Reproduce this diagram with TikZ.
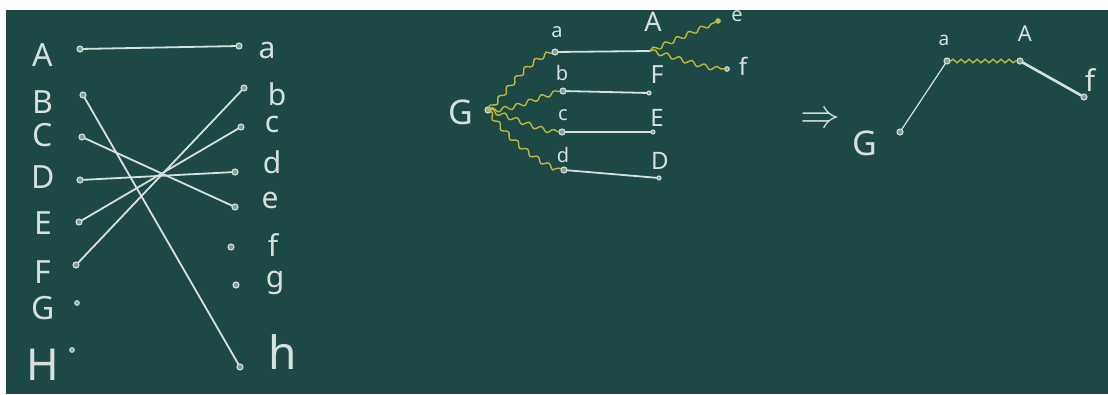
\documentclass[tikz,border=0pt]{standalone}
\usepackage{fontspec}
\setmainfont{Noto Sans}
\usetikzlibrary{decorations.pathmorphing}
\definecolor{board}{RGB}{28,73,69}
\definecolor{chalk}{RGB}{214,224,221}
\definecolor{ychalk}{RGB}{190,184,60}
\begin{document}
\begin{tikzpicture}[x=1pt,y=-1pt,
  dot/.style={circle,draw=chalk,fill=chalk!55!board,inner sep=0pt,minimum size=6pt,line width=1.1pt},
  lbl/.style={text=chalk,inner sep=0pt,font=\fontsize{#1}{#1}\selectfont},
  lbl/.default=28,
  chalkline/.style={draw=chalk,line width=1.8pt,line cap=round},
  thinline/.style={draw=chalk,line width=1.2pt,line cap=round},
  wavy/.style={draw=ychalk,line width=1.4pt,line cap=round,decorate,
    decoration={snake,segment length=13pt,amplitude=2.2pt}}]
\fill[white] (0,0) rectangle (1108,394);
\fill[board] (6,10) rectangle (1108,394);
\useasboundingbox (0,0) rectangle (1108,394);

% ---------- left panel ----------
\foreach \n/\x/\y in {A/43/55,B/43/102,C/43/135,D/43/177,E/43/223,F/43/272,G/43/308}
  \node[lbl=32] (L\n) at (\x,\y) {\n};
\node[lbl=44] (LH) at (43,365) {H};
\node[dot] (lA) at (80,49) {};
\node[dot] (lB) at (83,95) {};
\node[dot] (lC) at (82,137) {};
\node[dot] (lD) at (80,180) {};
\node[dot] (lE) at (79,222) {};
\node[dot] (lF) at (76,265) {};
\node[dot,minimum size=4.5pt] (lG) at (77,303) {};
\node[dot,minimum size=4.5pt] (lH) at (72,350) {};
\node[dot] (ra) at (239,46) {};
\node[dot] (rb) at (244,88) {};
\node[dot] (rc) at (241,127) {};
\node[dot] (rd) at (235,172) {};
\node[dot] (re) at (235,207) {};
\node[dot] (rf) at (231,247) {};
\node[dot] (rg) at (236,285) {};
\node[dot] (rh) at (240,367) {};
\node[lbl=30] (Ra) at (267,50) {a};
\node[lbl=30] (Rb) at (277,94) {b};
\node[lbl=30] (Rc) at (272,124) {c};
\node[lbl=30] (Rd) at (272,162) {d};
\node[lbl=30] (Re) at (270,200) {e};
\node[lbl=30] (Rf) at (273,245) {f};
\node[lbl=30] (Rg) at (275,283) {g};
\node[lbl=46] (Rh) at (283,352) {h};
\draw[chalkline] (lA) -- (ra);
\draw[chalkline] (lB) -- (rh);
\draw[chalkline] (lC) -- (re);
\draw[chalkline] (lD) -- (rd);
\draw[chalkline] (lE) -- (rc);
\draw[chalkline] (lF) -- (rb);

% ---------- middle panel ----------
\node[lbl=34] (MG) at (461,112) {G};
\node[dot] (mG) at (488,110) {};
\node[dot] (ma) at (555,52) {};
\node[dot] (mb) at (563,91) {};
\node[dot] (mc) at (562,132) {};
\node[dot] (md) at (564,170) {};
\node[lbl=20] (Ma) at (557,32) {a};
\node[lbl=20] (Mb) at (562,73) {b};
\node[lbl=20] (Mc) at (563,115) {c};
\node[lbl=20] (Md) at (563,155) {d};
\coordinate (mA) at (650,51);
\node[dot,minimum size=4pt] (mF) at (649,93) {};
\node[dot,minimum size=4pt] (mE) at (653,132) {};
\node[dot,minimum size=4pt] (mD) at (659,178) {};
\node[lbl=27] (MA) at (653,22) {A};
\node[lbl=25] (MF) at (657,75) {F};
\node[lbl=24] (ME) at (657,118) {E};
\node[lbl=24] (MD) at (660,161) {D};
\node[dot,draw=ychalk,fill=ychalk,minimum size=4.5pt] (me) at (718,21) {};
\node[dot,minimum size=4.5pt] (mf) at (727,69) {};
\node[lbl=24] (Mf) at (743,66) {f};
\node[lbl=20] (Me) at (737,16) {e};
\draw[chalkline] (ma) -- (mA);
\draw[chalkline] (mb) -- (mF);
\draw[chalkline] (mc) -- (mE);
\draw[chalkline] (md) -- (mD);
\draw[wavy] (mG.center) .. controls (505,95) and (520,65) .. (ma);
\draw[wavy] (mG.center) .. controls (515,110) and (535,95) .. (mb);
\draw[wavy] (mG.center) .. controls (515,118) and (535,130) .. (mc);
\draw[wavy] (mG.center) .. controls (505,135) and (535,160) .. (md);
\draw[wavy] (mA) -- (me);
\draw[wavy] (mA) .. controls (680,58) and (700,68) .. (mf);

% ---------- right panel ----------
\node[text=chalk,scale=1.6,font=\fontsize{24}{24}\selectfont] (arr) at (820,120) {$\Rightarrow$};
\node[lbl=34] (NG) at (865,143) {G};
\node[dot] (nG) at (900,132) {};
\node[dot] (na) at (947,61) {};
\node[dot] (nA) at (1020,61) {};
\node[dot] (nf) at (1084,97) {};
\node[lbl=19] (Na) at (944,40) {a};
\node[lbl=22] (NA) at (1025,34) {A};
\node[lbl=30] (Nf) at (1090,80) {f};
\draw[thinline] (nG) -- (na);
\draw[wavy,decoration={snake,segment length=8pt,amplitude=1.8pt}] (na) -- (nA);
\draw[chalkline,line width=2.6pt] (nA) -- (nf);
\end{tikzpicture}
\end{document}
